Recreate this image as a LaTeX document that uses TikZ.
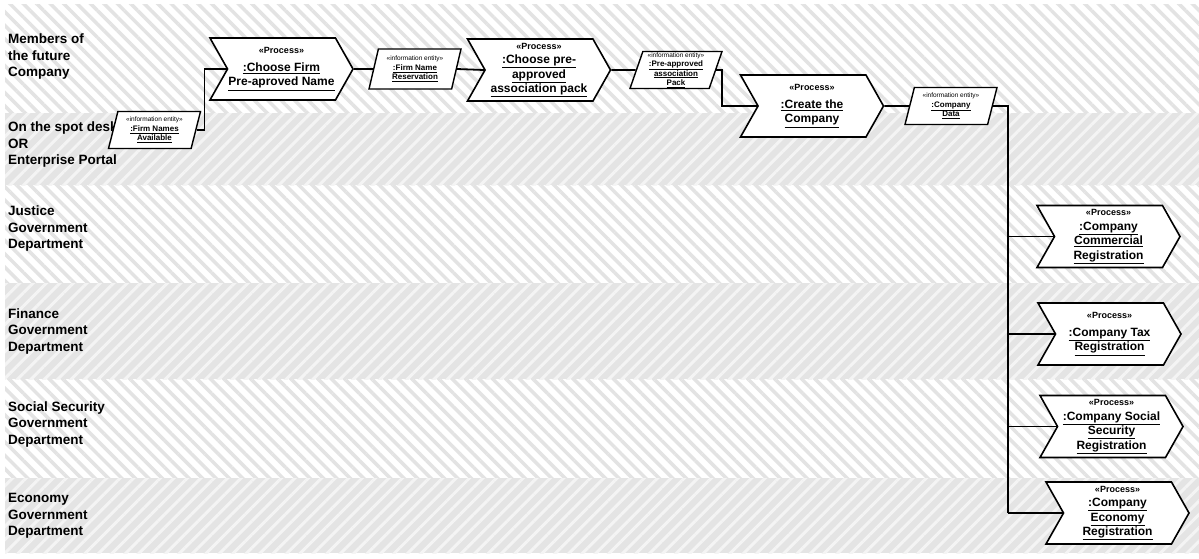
\documentclass[tikz,border=0pt]{standalone}
\usepackage{fontspec}
\setmainfont{Liberation Sans}
\usetikzlibrary{shapes.symbols,shapes.geometric,patterns.meta}

\newcommand{\procstereo}{\fontsize{9}{11}\selectfont}
\newcommand{\infostereo}{\fontsize{6.5}{8}\selectfont\mdseries}

\tikzset{
  oddlane/.style={fill=white,postaction={pattern={Lines[angle=-45,distance=9.5pt,line width=3.5pt]},pattern color=gray!22}},
  evenlane/.style={fill=gray!21,postaction={pattern={Lines[angle=45,distance=9.5pt,line width=3pt]},pattern color=gray!9}},
  lanelabel/.style={anchor=west,align=left,inner sep=0pt,font=\fontsize{13.5}{16.5}\selectfont\bfseries},
  process/.style={shape=signal,signal to=east,signal from=west,signal pointer angle=121,
    draw,line width=1.6pt,fill=white,minimum width=143pt,minimum height=62pt,inner sep=0pt,
    align=center,font=\fontsize{12}{14.5}\selectfont\bfseries},
  infoent/.style={trapezium,trapezium left angle=70,trapezium right angle=110,trapezium stretches body,
    draw,line width=1.4pt,fill=white,minimum width=92pt,minimum height=37pt,inner sep=0pt,
    align=center,font=\fontsize{8}{9.5}\selectfont\bfseries},
  link/.style={line width=1.8pt},
  trunk/.style={line width=2.3pt}
}

\begin{document}
\begin{tikzpicture}[x=1pt,y=-1pt]
\useasboundingbox (0,0) rectangle (1199,558);

% swim lanes
\foreach \ya/\yb in {4/113,185/283,379/478}
  \path[oddlane] (5,\ya) rectangle (1199,\yb);
\foreach \ya/\yb in {113/185,283/379,478/553}
  \path[evenlane] (5,\ya) rectangle (1199,\yb);

\node[lanelabel] (l1) at (8,57) {Members of\\the future\\Company};
\node[lanelabel] (l2) at (8,145) {On the spot desk\\OR\\Enterprise Portal};
\node[lanelabel] (l3) at (8,229) {Justice\\Government\\Department};
\node[lanelabel] (l4) at (8,331) {Finance\\Government\\Department};
\node[lanelabel] (l5) at (8,424) {Social Security\\Government\\Department};
\node[lanelabel] (l6) at (8,516) {Economy\\Government\\Department};

% activities
\node[infoent] (fna) at (154.5,130) {{\infostereo «information entity»}\\\underline{:Firm Names}\\\underline{Available}};
\node[process] (cfn) at (281.5,69) {{\procstereo «Process»}\\[3pt]\underline{:Choose Firm}\\\underline{Pre-aproved Name}};
\node[infoent,minimum height=40pt] (fnr) at (415,69) {{\infostereo «information entity»}\\\underline{:Firm Name}\\\underline{Reservation}};
\node[process] (cpap) at (539,70) {{\procstereo «Process»}\\\underline{:Choose pre-}\\\underline{approved}\\\underline{association pack}};
\node[infoent] (paap) at (676,70) {{\infostereo «information entity»}\\\underline{:Pre-approved}\\\underline{association}\\\underline{Pack}};
\node[process] (ctc) at (812,106) {{\procstereo «Process»}\\[3pt]\underline{:Create the}\\\underline{Company}};
\node[infoent] (cd) at (951,106) {{\infostereo «information entity»}\\\underline{:Company}\\\underline{Data}};

\node[process] (ccr) at (1108.5,236.5) {{\procstereo «Process»}\\\underline{:Company}\\\underline{Commercial}\\\underline{Registration}};
\node[process] (ctr) at (1109.5,334) {{\procstereo «Process»}\\[3pt]\underline{:Company Tax}\\\underline{Registration}};
\node[process] (cssr) at (1111.5,426.5) {{\procstereo «Process»}\\\underline{:Company Social}\\\underline{Security}\\\underline{Registration}};
\node[process] (cer) at (1117.5,513) {{\procstereo «Process»}\\\underline{:Company}\\\underline{Economy}\\\underline{Registration}};

% flows
\draw[link] (fna.east) -- ++(8,0) |- (cfn.west);
\draw[link] (cfn.east) -- (fnr.west);
\draw[link] (fnr.east) -- (cpap.west);
\draw[link] (cpap.east) -- (paap.west);
\draw[link] (paap.east) -- ++(6,0) |- (ctc.west);
\draw[link] (ctc.east) -- (cd.west);

\coordinate (split) at ([xshift=15pt]cd.east);
\draw[trunk] (cd.east) -- (split) -- (split |- cer.west);
\draw[link] (split |- ccr.west) -- (ccr.west);
\draw[link] (split |- ctr.west) -- (ctr.west);
\draw[link] (split |- cssr.west) -- (cssr.west);
\draw[link] (split |- cer.west) -- (cer.west);

\end{tikzpicture}
\end{document}
